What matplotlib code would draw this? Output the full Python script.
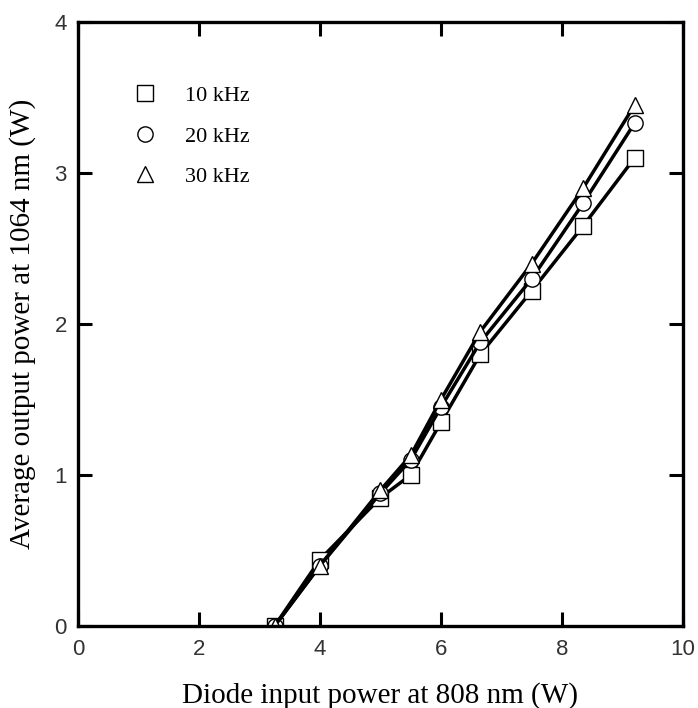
import numpy as np
import matplotlib
matplotlib.use('Agg')
import matplotlib.pyplot as plt

x_in = [3.25, 4.0, 5.0, 5.5, 6.0, 6.65, 7.5, 8.35, 9.2]
p_10k = [0.0, 0.44, 0.85, 1.0, 1.35, 1.8, 2.22, 2.65, 3.1]
p_20k = [0.0, 0.40, 0.88, 1.1, 1.45, 1.88, 2.3, 2.8, 3.33]
p_30k = [0.0, 0.40, 0.90, 1.13, 1.5, 1.95, 2.4, 2.9, 3.45]
labels = ['10 kHz', '20 kHz', '30 kHz']
markers = ['s', 'o', '^']

fig = plt.figure(figsize=(6.98, 7.08), dpi=100)
ax = fig.add_axes([0.1117, 0.1158, 0.8668, 0.8531])

for y, lab, m in zip([p_10k, p_20k, p_30k], labels, markers):
    ax.plot(x_in, y, color='black', lw=2.5, marker=m, ms=11,
            mfc='white', mec='black', mew=1.0, label=lab)

ax.set_xlim(0, 10)
ax.set_ylim(0, 4)
ax.set_xticks([0, 2, 4, 6, 8, 10])
ax.set_yticks([0, 1, 2, 3, 4])
ax.tick_params(direction='in', length=10, width=2.2, top=True, right=True,
               labelsize=16)
ax.tick_params(axis='x', pad=9)
ax.tick_params(axis='y', pad=8)
for lab in ax.get_xticklabels() + ax.get_yticklabels():
    lab.set_fontfamily('Liberation Sans')
    lab.set_color('#333333')
for s in ax.spines.values():
    s.set_linewidth(2.4)

ax.set_xlabel('Diode input power at 808 nm (W)', fontsize=21,
              family='Liberation Serif')
ax.set_ylabel('Average output power at 1064 nm (W)', fontsize=21,
              family='Liberation Serif')
ax.xaxis.set_label_coords(0.5, -0.092)
ax.yaxis.set_label_coords(-0.07, 0.5)

leg = ax.legend(loc='upper left', bbox_to_anchor=(0.111, 0.895), frameon=False,
                borderpad=0, borderaxespad=0,
                handlelength=0, handletextpad=1.8, labelspacing=0.9,
                prop={'family': 'Liberation Serif', 'size': 16})
for h in leg.legend_handles:
    h.set_linestyle('none')

fig.savefig('out.png', dpi=100)
